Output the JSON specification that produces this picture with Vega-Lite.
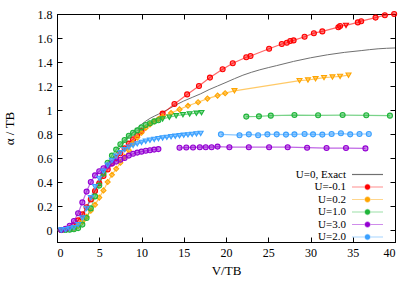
{
  "$schema": "https://vega.github.io/schema/vega-lite/v6.json",
  "width": 338,
  "height": 228,
  "autosize": {"type": "none"},
  "padding": {"left": 57, "top": 14, "right": 20, "bottom": 49},
  "background": "white",
  "config": {
    "font": "Liberation Serif",
    "view": {"stroke": "#000", "strokeWidth": 1},
    "axis": {"labelFont": "Liberation Serif", "titleFont": "Liberation Serif", "labelFontSize": 12, "titleFontSize": 13, "titleFontWeight": "normal", "labelColor": "#000", "titleColor": "#000", "tickColor": "#000", "domainColor": "#000", "grid": false, "tickSize": -5, "labelPadding": 10}
  },
  "datasets": {
    "exact": [
      {"s":"U=0, Exact","V":0,"a":0},{"s":"U=0, Exact","V":0.5,"a":0},{"s":"U=0, Exact","V":1,"a":0.004},{"s":"U=0, Exact","V":1.5,"a":0.015},{"s":"U=0, Exact","V":2,"a":0.04},{"s":"U=0, Exact","V":2.5,"a":0.08},{"s":"U=0, Exact","V":3,"a":0.13},{"s":"U=0, Exact","V":3.5,"a":0.19},{"s":"U=0, Exact","V":4,"a":0.26},{"s":"U=0, Exact","V":4.5,"a":0.33},{"s":"U=0, Exact","V":5,"a":0.4},{"s":"U=0, Exact","V":6,"a":0.53},{"s":"U=0, Exact","V":7,"a":0.64},{"s":"U=0, Exact","V":8,"a":0.735},{"s":"U=0, Exact","V":9,"a":0.815},{"s":"U=0, Exact","V":10,"a":0.88},{"s":"U=0, Exact","V":11,"a":0.93},{"s":"U=0, Exact","V":12,"a":0.965},{"s":"U=0, Exact","V":13,"a":1.0},{"s":"U=0, Exact","V":14,"a":1.04},{"s":"U=0, Exact","V":15,"a":1.075},{"s":"U=0, Exact","V":16,"a":1.105},{"s":"U=0, Exact","V":17,"a":1.135},{"s":"U=0, Exact","V":18,"a":1.17},{"s":"U=0, Exact","V":19,"a":1.2},{"s":"U=0, Exact","V":20,"a":1.23},{"s":"U=0, Exact","V":22,"a":1.29},{"s":"U=0, Exact","V":24,"a":1.335},{"s":"U=0, Exact","V":26,"a":1.37},{"s":"U=0, Exact","V":28,"a":1.405},{"s":"U=0, Exact","V":30,"a":1.435},{"s":"U=0, Exact","V":32,"a":1.46},{"s":"U=0, Exact","V":34,"a":1.48},{"s":"U=0, Exact","V":36,"a":1.495},{"s":"U=0, Exact","V":38,"a":1.51},{"s":"U=0, Exact","V":40,"a":1.517}
    ],
    "series": [
      {"s":"U=-0.1","g":"r1","m":"o","V":0.5,"a":0},{"s":"U=-0.1","g":"r1","m":"o","V":1,"a":0.004},{"s":"U=-0.1","g":"r1","m":"o","V":1.5,"a":0.014},{"s":"U=-0.1","g":"r1","m":"o","V":2,"a":0.04},{"s":"U=-0.1","g":"r1","m":"o","V":2.5,"a":0.08},{"s":"U=-0.1","g":"r1","m":"o","V":3,"a":0.13},{"s":"U=-0.1","g":"r1","m":"o","V":3.5,"a":0.19},{"s":"U=-0.1","g":"r1","m":"o","V":4,"a":0.255},{"s":"U=-0.1","g":"r1","m":"o","V":4.5,"a":0.325},{"s":"U=-0.1","g":"r1","m":"o","V":5,"a":0.39},{"s":"U=-0.1","g":"r1","m":"o","V":5.5,"a":0.45},{"s":"U=-0.1","g":"r1","m":"o","V":6,"a":0.505},{"s":"U=-0.1","g":"r1","m":"o","V":6.5,"a":0.555},{"s":"U=-0.1","g":"r1","m":"o","V":7,"a":0.6},{"s":"U=-0.1","g":"r1","m":"o","V":7.5,"a":0.64},{"s":"U=-0.1","g":"r1","m":"o","V":8,"a":0.68},{"s":"U=-0.1","g":"r1","m":"o","V":8.5,"a":0.72},{"s":"U=-0.1","g":"r1","m":"o","V":9,"a":0.755},{"s":"U=-0.1","g":"r1","m":"o","V":9.5,"a":0.79},{"s":"U=-0.1","g":"r1","m":"o","V":10,"a":0.825},
      {"s":"U=-0.1","g":"r1","m":"o","V":12.5,"a":0.97},{"s":"U=-0.1","g":"r1","m":"o","V":13.9,"a":1.05},{"s":"U=-0.1","g":"r1","m":"o","V":15.4,"a":1.13},{"s":"U=-0.1","g":"r1","m":"o","V":16.8,"a":1.2},{"s":"U=-0.1","g":"r1","m":"o","V":18.1,"a":1.27},{"s":"U=-0.1","g":"r1","m":"o","V":19.6,"a":1.34},{"s":"U=-0.1","g":"r1","m":"o","V":20.8,"a":1.39},{"s":"U=-0.1","g":"r1","m":"o","V":22.4,"a":1.44},{"s":"U=-0.1","g":"r1","m":"o","V":22.9,"a":1.45},{"s":"U=-0.1","g":"r1","m":"o","V":25.1,"a":1.51},{"s":"U=-0.1","g":"r1","m":"o","V":26.6,"a":1.55},{"s":"U=-0.1","g":"r1","m":"o","V":27.2,"a":1.56},{"s":"U=-0.1","g":"r1","m":"o","V":27.6,"a":1.575},{"s":"U=-0.1","g":"r1","m":"o","V":28.0,"a":1.58},{"s":"U=-0.1","g":"r1","m":"o","V":29.3,"a":1.61},{"s":"U=-0.1","g":"r1","m":"o","V":30.4,"a":1.64},{"s":"U=-0.1","g":"r1","m":"o","V":31.4,"a":1.655},{"s":"U=-0.1","g":"r1","m":"o","V":33.3,"a":1.69},{"s":"U=-0.1","g":"r1","m":"o","V":33.5,"a":1.7},{"s":"U=-0.1","g":"r1","m":"v","V":34.2,"a":1.705},{"s":"U=-0.1","g":"r1","m":"o","V":35.6,"a":1.73},{"s":"U=-0.1","g":"r1","m":"o","V":36.0,"a":1.74},{"s":"U=-0.1","g":"r1","m":"o","V":37.7,"a":1.77},{"s":"U=-0.1","g":"r1","m":"o","V":38.8,"a":1.79},{"s":"U=-0.1","g":"r1","m":"o","V":39.9,"a":1.8},

      {"s":"U=0.2","g":"o1","m":"d","V":0.5,"a":0},{"s":"U=0.2","g":"o1","m":"d","V":1,"a":0.002},{"s":"U=0.2","g":"o1","m":"d","V":1.5,"a":0.006},{"s":"U=0.2","g":"o1","m":"d","V":2,"a":0.015},{"s":"U=0.2","g":"o1","m":"d","V":2.5,"a":0.035},{"s":"U=0.2","g":"o1","m":"d","V":3,"a":0.07},{"s":"U=0.2","g":"o1","m":"d","V":3.5,"a":0.11},{"s":"U=0.2","g":"o1","m":"d","V":4,"a":0.16},{"s":"U=0.2","g":"o1","m":"d","V":4.5,"a":0.21},{"s":"U=0.2","g":"o1","m":"d","V":5,"a":0.27},{"s":"U=0.2","g":"o1","m":"d","V":5.5,"a":0.33},{"s":"U=0.2","g":"o1","m":"d","V":6,"a":0.4},{"s":"U=0.2","g":"o1","m":"d","V":6.5,"a":0.46},{"s":"U=0.2","g":"o1","m":"d","V":7,"a":0.51},{"s":"U=0.2","g":"o1","m":"d","V":7.5,"a":0.56},{"s":"U=0.2","g":"o1","m":"d","V":8,"a":0.61},{"s":"U=0.2","g":"o1","m":"d","V":8.5,"a":0.665},{"s":"U=0.2","g":"o1","m":"d","V":9,"a":0.725},{"s":"U=0.2","g":"o1","m":"d","V":9.5,"a":0.77},{"s":"U=0.2","g":"o1","m":"d","V":10,"a":0.81},{"s":"U=0.2","g":"o1","m":"d","V":10.5,"a":0.85},{"s":"U=0.2","g":"o1","m":"d","V":11,"a":0.88},{"s":"U=0.2","g":"o1","m":"d","V":11.5,"a":0.905},{"s":"U=0.2","g":"o1","m":"d","V":12,"a":0.925},{"s":"U=0.2","g":"o1","m":"d","V":12.5,"a":0.945},
      {"s":"U=0.2","g":"o1","m":"d","V":13.5,"a":0.975},{"s":"U=0.2","g":"o1","m":"d","V":14.5,"a":1.005},{"s":"U=0.2","g":"o1","m":"d","V":15.5,"a":1.035},{"s":"U=0.2","g":"o1","m":"d","V":16.7,"a":1.065},{"s":"U=0.2","g":"o1","m":"d","V":17.8,"a":1.095},{"s":"U=0.2","g":"o1","m":"d","V":19.0,"a":1.12},{"s":"U=0.2","g":"o1","m":"d","V":19.9,"a":1.14},{"s":"U=0.2","g":"o1","m":"v","V":21.0,"a":1.16},{"s":"U=0.2","g":"o1","m":"v","V":28.7,"a":1.245},{"s":"U=0.2","g":"o1","m":"v","V":29.7,"a":1.25},{"s":"U=0.2","g":"o1","m":"v","V":30.6,"a":1.26},{"s":"U=0.2","g":"o1","m":"v","V":31.6,"a":1.27},{"s":"U=0.2","g":"o1","m":"v","V":32.6,"a":1.275},{"s":"U=0.2","g":"o1","m":"v","V":33.5,"a":1.28},{"s":"U=0.2","g":"o1","m":"v","V":34.5,"a":1.29},

      {"s":"U=1.0","g":"g1","m":"o","V":0.5,"a":0},{"s":"U=1.0","g":"g1","m":"o","V":1,"a":0.001},{"s":"U=1.0","g":"g1","m":"o","V":1.5,"a":0.003},{"s":"U=1.0","g":"g1","m":"o","V":2,"a":0.006},{"s":"U=1.0","g":"g1","m":"o","V":2.5,"a":0.016},{"s":"U=1.0","g":"g1","m":"o","V":3,"a":0.045},{"s":"U=1.0","g":"g1","m":"o","V":3.5,"a":0.1},{"s":"U=1.0","g":"g1","m":"o","V":4,"a":0.18},{"s":"U=1.0","g":"g1","m":"o","V":4.5,"a":0.28},{"s":"U=1.0","g":"g1","m":"o","V":5,"a":0.37},{"s":"U=1.0","g":"g1","m":"o","V":5.5,"a":0.47},{"s":"U=1.0","g":"g1","m":"o","V":6,"a":0.56},{"s":"U=1.0","g":"g1","m":"o","V":6.5,"a":0.62},{"s":"U=1.0","g":"g1","m":"o","V":7,"a":0.67},{"s":"U=1.0","g":"g1","m":"o","V":7.5,"a":0.715},{"s":"U=1.0","g":"g1","m":"o","V":8,"a":0.75},{"s":"U=1.0","g":"g1","m":"o","V":8.5,"a":0.785},{"s":"U=1.0","g":"g1","m":"o","V":9,"a":0.81},{"s":"U=1.0","g":"g1","m":"o","V":9.5,"a":0.83},{"s":"U=1.0","g":"g1","m":"o","V":10,"a":0.855},{"s":"U=1.0","g":"g1","m":"o","V":10.5,"a":0.875},{"s":"U=1.0","g":"g1","m":"o","V":11,"a":0.89},{"s":"U=1.0","g":"g1","m":"o","V":11.5,"a":0.905},{"s":"U=1.0","g":"g1","m":"o","V":12,"a":0.915},
      {"s":"U=1.0","g":"g1","m":"v","V":12.5,"a":0.925},{"s":"U=1.0","g":"g1","m":"v","V":13.3,"a":0.94},{"s":"U=1.0","g":"g1","m":"v","V":14.1,"a":0.952},{"s":"U=1.0","g":"g1","m":"v","V":14.9,"a":0.961},{"s":"U=1.0","g":"g1","m":"v","V":15.7,"a":0.967},{"s":"U=1.0","g":"g1","m":"v","V":16.5,"a":0.973},{"s":"U=1.0","g":"g1","m":"v","V":17.1,"a":0.978},
      {"s":"U=1.0","g":"g2","m":"o","V":22.4,"a":0.945},{"s":"U=1.0","g":"g2","m":"o","V":23.9,"a":0.947},{"s":"U=1.0","g":"g2","m":"o","V":25.3,"a":0.953},{"s":"U=1.0","g":"g2","m":"o","V":28.1,"a":0.958},{"s":"U=1.0","g":"g2","m":"o","V":30.9,"a":0.956},{"s":"U=1.0","g":"g2","m":"o","V":33.8,"a":0.958},{"s":"U=1.0","g":"g2","m":"o","V":36.6,"a":0.956},{"s":"U=1.0","g":"g2","m":"o","V":39.4,"a":0.953},

      {"s":"U=3.0","g":"p1","m":"o","V":0.5,"a":0},{"s":"U=3.0","g":"p1","m":"o","V":1,"a":0.01},{"s":"U=3.0","g":"p1","m":"o","V":1.5,"a":0.035},{"s":"U=3.0","g":"p1","m":"o","V":2,"a":0.075},{"s":"U=3.0","g":"p1","m":"o","V":2.5,"a":0.14},{"s":"U=3.0","g":"p1","m":"o","V":3,"a":0.23},{"s":"U=3.0","g":"p1","m":"o","V":3.5,"a":0.32},{"s":"U=3.0","g":"p1","m":"o","V":4,"a":0.4},{"s":"U=3.0","g":"p1","m":"o","V":4.5,"a":0.455},{"s":"U=3.0","g":"p1","m":"o","V":5,"a":0.49},{"s":"U=3.0","g":"p1","m":"o","V":5.5,"a":0.515},{"s":"U=3.0","g":"p1","m":"o","V":6,"a":0.535},{"s":"U=3.0","g":"p1","m":"o","V":6.5,"a":0.555},{"s":"U=3.0","g":"p1","m":"o","V":7,"a":0.57},{"s":"U=3.0","g":"p1","m":"o","V":7.5,"a":0.585},{"s":"U=3.0","g":"p1","m":"o","V":8,"a":0.6},{"s":"U=3.0","g":"p1","m":"o","V":8.5,"a":0.62},{"s":"U=3.0","g":"p1","m":"o","V":9,"a":0.635},{"s":"U=3.0","g":"p1","m":"o","V":9.5,"a":0.645},{"s":"U=3.0","g":"p1","m":"o","V":10,"a":0.653},{"s":"U=3.0","g":"p1","m":"o","V":10.5,"a":0.66},{"s":"U=3.0","g":"p1","m":"o","V":11,"a":0.665},{"s":"U=3.0","g":"p1","m":"o","V":11.5,"a":0.67},{"s":"U=3.0","g":"p1","m":"o","V":12,"a":0.674},
      {"s":"U=3.0","g":"p2","m":"o","V":14.5,"a":0.685},{"s":"U=3.0","g":"p2","m":"o","V":15.3,"a":0.687},{"s":"U=3.0","g":"p2","m":"o","V":16.1,"a":0.688},{"s":"U=3.0","g":"p2","m":"o","V":16.9,"a":0.69},{"s":"U=3.0","g":"p2","m":"o","V":17.6,"a":0.69},{"s":"U=3.0","g":"p2","m":"o","V":18.3,"a":0.69},{"s":"U=3.0","g":"p2","m":"o","V":19.0,"a":0.695},{"s":"U=3.0","g":"p2","m":"o","V":20.4,"a":0.69},{"s":"U=3.0","g":"p2","m":"o","V":22.7,"a":0.69},{"s":"U=3.0","g":"p2","m":"o","V":25.1,"a":0.69},{"s":"U=3.0","g":"p2","m":"o","V":27.3,"a":0.69},{"s":"U=3.0","g":"p2","m":"o","V":29.6,"a":0.686},{"s":"U=3.0","g":"p2","m":"o","V":31.9,"a":0.683},{"s":"U=3.0","g":"p2","m":"o","V":34.2,"a":0.683},{"s":"U=3.0","g":"p2","m":"o","V":36.5,"a":0.68},

      {"s":"U=2.0","g":"b1","m":"v","V":0.5,"a":0},{"s":"U=2.0","g":"b1","m":"v","V":1,"a":0.003},{"s":"U=2.0","g":"b1","m":"v","V":1.5,"a":0.01},{"s":"U=2.0","g":"b1","m":"v","V":2,"a":0.02},{"s":"U=2.0","g":"b1","m":"v","V":2.5,"a":0.045},{"s":"U=2.0","g":"b1","m":"v","V":3,"a":0.1},{"s":"U=2.0","g":"b1","m":"v","V":3.5,"a":0.18},{"s":"U=2.0","g":"b1","m":"v","V":4,"a":0.27},{"s":"U=2.0","g":"b1","m":"v","V":4.5,"a":0.36},{"s":"U=2.0","g":"b1","m":"v","V":5,"a":0.43},{"s":"U=2.0","g":"b1","m":"v","V":5.5,"a":0.49},{"s":"U=2.0","g":"b1","m":"v","V":6,"a":0.54},{"s":"U=2.0","g":"b1","m":"v","V":6.5,"a":0.58},{"s":"U=2.0","g":"b1","m":"v","V":7,"a":0.615},{"s":"U=2.0","g":"b1","m":"v","V":7.5,"a":0.645},{"s":"U=2.0","g":"b1","m":"v","V":8,"a":0.67},{"s":"U=2.0","g":"b1","m":"v","V":8.5,"a":0.69},{"s":"U=2.0","g":"b1","m":"v","V":9,"a":0.705},{"s":"U=2.0","g":"b1","m":"v","V":9.5,"a":0.718},{"s":"U=2.0","g":"b1","m":"v","V":10,"a":0.73},{"s":"U=2.0","g":"b1","m":"v","V":10.5,"a":0.74},{"s":"U=2.0","g":"b1","m":"v","V":11,"a":0.748},{"s":"U=2.0","g":"b1","m":"v","V":11.5,"a":0.755},{"s":"U=2.0","g":"b1","m":"v","V":12,"a":0.761},{"s":"U=2.0","g":"b1","m":"v","V":12.5,"a":0.767},{"s":"U=2.0","g":"b1","m":"v","V":13,"a":0.772},{"s":"U=2.0","g":"b1","m":"v","V":13.5,"a":0.777},{"s":"U=2.0","g":"b1","m":"v","V":14,"a":0.781},{"s":"U=2.0","g":"b1","m":"v","V":14.5,"a":0.785},{"s":"U=2.0","g":"b1","m":"v","V":15,"a":0.789},{"s":"U=2.0","g":"b1","m":"v","V":15.5,"a":0.793},{"s":"U=2.0","g":"b1","m":"v","V":16,"a":0.797},{"s":"U=2.0","g":"b1","m":"v","V":16.5,"a":0.801},{"s":"U=2.0","g":"b1","m":"v","V":17,"a":0.805},
      {"s":"U=2.0","g":"b2","m":"o","V":19.4,"a":0.797},{"s":"U=2.0","g":"b2","m":"o","V":21.6,"a":0.79},{"s":"U=2.0","g":"b2","m":"o","V":22.7,"a":0.797},{"s":"U=2.0","g":"b2","m":"o","V":23.8,"a":0.79},{"s":"U=2.0","g":"b2","m":"o","V":24.9,"a":0.797},{"s":"U=2.0","g":"b2","m":"o","V":26.0,"a":0.797},{"s":"U=2.0","g":"b2","m":"o","V":27.1,"a":0.795},{"s":"U=2.0","g":"b2","m":"o","V":28.1,"a":0.797},{"s":"U=2.0","g":"b2","m":"o","V":29.3,"a":0.8},{"s":"U=2.0","g":"b2","m":"o","V":30.3,"a":0.797},{"s":"U=2.0","g":"b2","m":"o","V":31.4,"a":0.795},{"s":"U=2.0","g":"b2","m":"o","V":32.5,"a":0.8},{"s":"U=2.0","g":"b2","m":"o","V":33.6,"a":0.806},{"s":"U=2.0","g":"b2","m":"o","V":34.7,"a":0.797},{"s":"U=2.0","g":"b2","m":"o","V":35.8,"a":0.8},{"s":"U=2.0","g":"b2","m":"o","V":36.9,"a":0.8}
    ]
  },
  "layer": [
    {
      "data": {"name": "exact"},
      "mark": {"type": "line", "strokeWidth": 1, "interpolate": "monotone"},
      "encoding": {
        "x": {"field": "V", "type": "quantitative", "scale": {"domain": [0, 40], "nice": false, "zero": false}, "axis": {"values": [0,5,10,15,20,25,30,35,40], "title": "V/TB", "titlePadding": 6}},
        "y": {"field": "a", "type": "quantitative", "scale": {"domain": [-0.1, 1.8], "nice": false, "zero": false}, "axis": {"values": [0,0.2,0.4,0.6,0.8,1,1.2,1.4,1.6,1.8], "format": "~g", "title": "α / TB", "titlePadding": 21}},
        "color": {"field": "s", "type": "nominal",
          "scale": {"domain": ["U=0, Exact","U=-0.1","U=0.2","U=1.0","U=3.0","U=2.0"], "range": ["#707070","#ff0000","#ffa500","#1fb53a","#9400d3","#3aa0ff"]},
          "legend": {"title": null, "orient": "none", "legendX": 305, "legendY": 155, "labelFont": "Liberation Serif", "labelFontSize": 11, "labelColor": "#000", "labelAlign": "right", "labelOffset": -27, "symbolSize": 40, "rowPadding": 0.5, "symbolStrokeWidth": 1.2,
            "encode": {"symbols": {"update": {
              "shape": {"signal": "datum.value === 'U=0, Exact' ? 'M-4.9,0H4.9' : 'M-4.9,0H4.9M-0.8,0A0.8,0.8,0,1,1,0.8,0A0.8,0.8,0,1,1,-0.8,0Z'"},
              "fill": {"scale": "color", "field": "value"},
              "fillOpacity": {"value": 1},
              "stroke": {"scale": "color", "field": "value"},
              "strokeOpacity": {"signal": "datum.value === 'U=0, Exact' ? 1 : 0.45"}
            }}}}
        }
      }
    },
    {
      "data": {"name": "series"},
      "mark": {"type": "line", "strokeWidth": 1.2, "opacity": 0.6},
      "encoding": {
        "x": {"field": "V", "type": "quantitative", "axis": {"orient": "top", "labels": false, "title": null, "values": [0,5,10,15,20,25,30,35,40]}},
        "y": {"field": "a", "type": "quantitative", "axis": {"orient": "right", "labels": false, "title": null, "values": [0,0.2,0.4,0.6,0.8,1,1.2,1.4,1.6,1.8]}},
        "color": {"field": "s", "type": "nominal"},
        "detail": {"field": "g"}
      }
    },
    {
      "data": {"name": "series"},
      "mark": {"type": "point", "filled": true, "size": 25, "strokeWidth": 1.1, "fillOpacity": 0.5, "opacity": 1},
      "encoding": {
        "x": {"field": "V", "type": "quantitative", "axis": null},
        "y": {"field": "a", "type": "quantitative", "axis": null},
        "color": {"field": "s", "type": "nominal"},
        "stroke": {"field": "s", "type": "nominal", "legend": null,
          "scale": {"domain": ["U=0, Exact","U=-0.1","U=0.2","U=1.0","U=3.0","U=2.0"], "range": ["#707070","#ff0000","#ffa500","#1fb53a","#9400d3","#3aa0ff"]}},
        "shape": {"field": "m", "type": "nominal", "scale": {"domain": ["o","v","d"], "range": ["circle","triangle-down","diamond"]}, "legend": null}
      }
    }
  ],
  "resolve": {"axis": {"x": "independent", "y": "independent"}}
}
